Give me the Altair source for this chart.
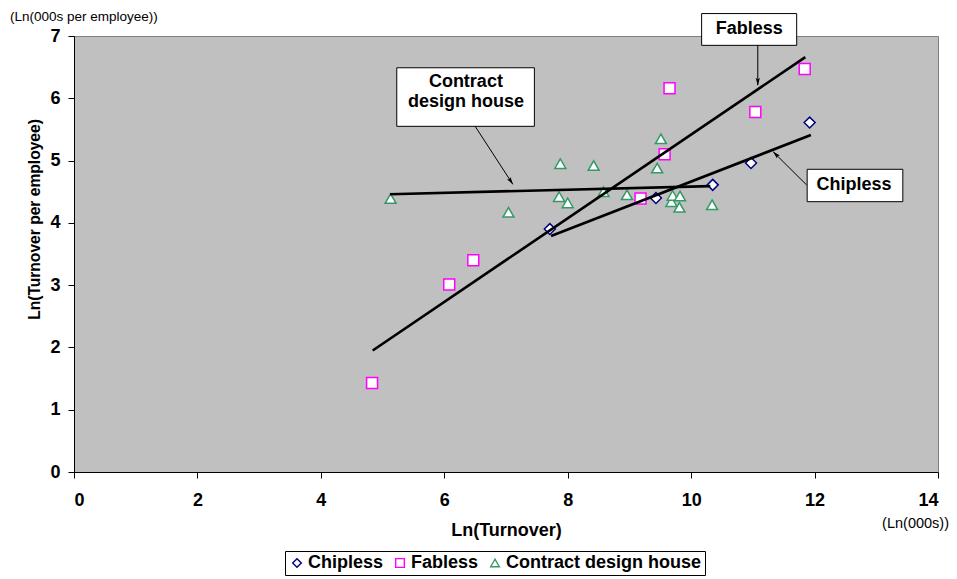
import math
import altair as alt
import pandas as pd

# ---- data ----
series_names = ["Chipless", "Fabless", "Contract design house"]
series_colors = ["#000080", "#FF00FF", "#339966"]
series_shapes = ["diamond", "square", "triangle-up"]

chip_x = [7.71, 9.43, 10.35, 10.97, 11.92]
chip_y = [3.90, 4.40, 4.61, 4.96, 5.61]

fab_x = [4.83, 6.08, 6.47, 9.18, 9.57, 9.65, 11.04, 11.84]
fab_y = [1.43, 3.01, 3.40, 4.39, 5.10, 6.16, 5.78, 6.47]

cdh_x = [5.13, 7.04, 7.86, 7.88, 8.00, 8.42, 8.58, 8.96, 9.45, 9.51, 9.68, 9.70, 9.81, 9.82, 10.34]
cdh_y = [4.39, 4.17, 4.42, 4.95, 4.32, 4.92, 4.50, 4.45, 4.88, 5.35, 4.34, 4.44, 4.25, 4.43, 4.29]

# trend line end points (x0, y0, x1, y1)
trend_chip = [7.73, 3.79, 11.94, 5.41]
trend_fab = [4.84, 1.95, 11.85, 6.66]
trend_cdh = [5.12, 4.46, 10.31, 4.59]

# annotation boxes (x0, x1, y0, y1) in data units, labels, arrows
box_labels = ["Contract\ndesign house", "Fabless", "Chipless"]
box_x0 = [5.23, 10.17, 11.88]
box_x1 = [7.46, 11.71, 13.43]
box_y0 = [5.55, 6.85, 4.34]
box_y1 = [6.49, 7.36, 4.86]
label_x = [6.35, 10.94, 12.64]
label_y = [6.26, 7.12, 4.60]
arrow_x0 = [6.50, 11.08, 11.87]
arrow_y0 = [5.55, 6.85, 4.61]
arrow_x1 = [7.11, 11.08, 11.33]
arrow_y1 = [4.62, 6.21, 5.14]

x_ticks = [0, 2, 4, 6, 8, 10, 12, 14]
y_ticks = [0, 1, 2, 3, 4, 5, 6, 7]

# ---- layout ----
W, H = 864, 436
X_MAX, Y_MAX = 14, 7
FONT = "Liberation Sans"
BIG = 18

pts = pd.DataFrame({
    "x": chip_x + fab_x + cdh_x,
    "y": chip_y + fab_y + cdh_y,
    "series": [series_names[0]] * len(chip_x) + [series_names[1]] * len(fab_x) + [series_names[2]] * len(cdh_x),
})

lines = pd.DataFrame({
    "x": [trend_chip[0], trend_chip[2], trend_fab[0], trend_fab[2], trend_cdh[0], trend_cdh[2]],
    "y": [trend_chip[1], trend_chip[3], trend_fab[1], trend_fab[3], trend_cdh[1], trend_cdh[3]],
    "series": ["c", "c", "f", "f", "d", "d"],
})

boxes = pd.DataFrame({"x": box_x0, "x2": box_x1, "y": box_y0, "y2": box_y1})
labels = pd.DataFrame({"x": label_x, "y": label_y, "t": box_labels})

px_x = W / X_MAX
px_y = H / Y_MAX
angles = []
head_x = []
head_y = []
for a, b, c, d in zip(arrow_x0, arrow_y0, arrow_x1, arrow_y1):
    dx = (c - a) * px_x
    dy = -(d - b) * px_y
    ang = math.degrees(math.atan2(dx, -dy)) % 360
    angles.append(ang)
    L = math.hypot(dx, dy)
    back = 3.5
    head_x.append(c - (dx / L * back) / px_x)
    head_y.append(d + (dy / L * back) / px_y)
arrows = pd.DataFrame({"x": arrow_x0, "y": arrow_y0, "x2": arrow_x1, "y2": arrow_y1})
heads = pd.DataFrame({"x": head_x, "y": head_y, "a": angles})

xs = alt.Scale(domain=[0, X_MAX], nice=False, zero=False)
ys = alt.Scale(domain=[0, Y_MAX], nice=False, zero=False)

x_axis = alt.Axis(values=x_ticks, format="d", title="Ln(Turnover)", tickSize=6, labelPadding=13,
                  titleY=58, titleBaseline="middle")
y_axis = alt.Axis(values=y_ticks, format="d", title="Ln(Turnover per employee)", tickSize=6,
                  labelPadding=8, titleX=-40, titleY=183, titleAngle=270, titleFontSize=15.6,
                  titleAlign="center", titleBaseline="middle")


def X(f="x:Q"):
    return alt.X(f, scale=xs, axis=x_axis)


def Y(f="y:Q"):
    return alt.Y(f, scale=ys, axis=y_axis)


legend = alt.Legend(title=None, orient="none", legendX=211, legendY=515, direction="horizontal",
                    strokeColor="black", fillColor="white", padding=3, labelFont=FONT,
                    labelFontSize=BIG, labelFontWeight="bold", labelColor="black", labelLimit=400,
                    symbolSize=75, symbolStrokeWidth=1.4, columnPadding=7, labelOffset=2,
                    symbolFillColor="white")

points = alt.Chart(pts).mark_point(filled=False, fill="white", size=120, strokeWidth=1.5, opacity=1).encode(
    x=X(), y=Y(),
    color=alt.Color("series:N", scale=alt.Scale(domain=series_names, range=series_colors), legend=legend),
    shape=alt.Shape("series:N", scale=alt.Scale(domain=series_names, range=series_shapes), legend=legend),
)

trend = alt.Chart(lines).mark_line(color="black", strokeWidth=2.6).encode(
    x=X(), y=Y(), detail="series:N",
)

box_marks = alt.Chart(boxes).mark_rect(fill="white", stroke="black", strokeWidth=1).encode(
    x=X(), x2="x2:Q", y=Y(), y2="y2:Q",
)

label_marks = alt.Chart(labels).mark_text(font=FONT, fontSize=BIG, fontWeight="bold", color="black",
                                         lineBreak="\n", lineHeight=20, align="center",
                                         baseline="middle").encode(
    x=X(), y=Y(), text="t:N",
)

arrow_marks = alt.Chart(arrows).mark_rule(color="black", strokeWidth=1).encode(
    x=X(), x2="x2:Q", y=Y(), y2="y2:Q",
)

head_marks = alt.Chart(heads).mark_point(shape="M0,-1L0.55,1L0,0.6L-0.55,1Z", filled=True,
                                         color="black", size=60, opacity=1).encode(
    x=X(), y=Y(), angle=alt.Angle("a:Q", scale=None),
)

one = pd.DataFrame({"k": [0]})
unit_y = alt.Chart(one).mark_text(text="(Ln(000s per employee))", font=FONT, fontSize=13.5,
                                  align="left", baseline="middle", color="black").encode(
    x=alt.value(-64), y=alt.value(-19))
unit_x = alt.Chart(one).mark_text(text="(Ln(000s))", font=FONT, fontSize=14.5,
                                  align="right", baseline="middle", color="black").encode(
    x=alt.value(875), y=alt.value(488))

chart = alt.layer(points, trend, box_marks, label_marks, arrow_marks, head_marks, unit_y, unit_x).properties(
    width=W, height=H,
    autosize="none",
    padding={"left": 66, "top": 28, "right": 11, "bottom": 107},
    background="white",
).configure_view(
    fill="#C0C0C0", stroke="#808080", strokeWidth=1,
).configure_axis(
    grid=False, domainColor="black", domainWidth=1, tickColor="black", tickWidth=1,
    labelFont=FONT, labelFontSize=BIG, labelFontWeight="bold", labelColor="black",
    titleFont=FONT, titleFontSize=BIG, titleFontWeight="bold", titleColor="black",
)

chart.save("out.html", embed_options={"renderer": "svg", "actions": False})
